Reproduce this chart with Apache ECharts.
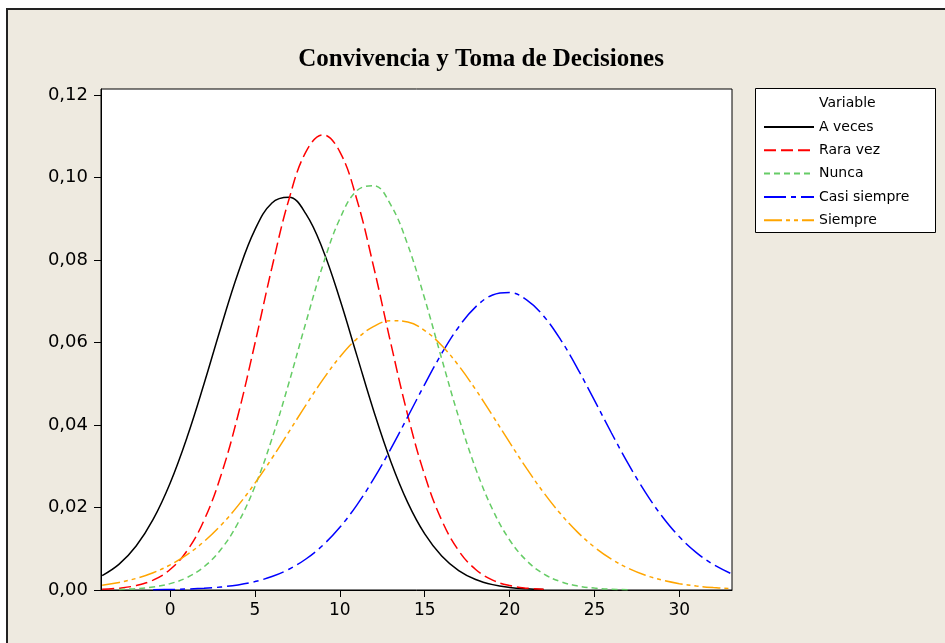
<!DOCTYPE html>
<html>
<head>
<meta charset="utf-8">
<script src="https://cdn.jsdelivr.net/npm/echarts@6/dist/echarts.min.js"></script>
<style>
  html, body { margin: 0; padding: 0; background: #ffffff; }
  #frame { position: absolute; left: 6px; top: 8px; width: 945px; height: 643px;
           background: #EEEAE0; border-top: 2px solid #222; border-left: 2px solid #222; }
  #chart { position: absolute; left: 0; top: 0; width: 945px; height: 643px; }
</style>
</head>
<body>
<div id="frame"></div>
<div id="chart"></div>
<script>
// x positions (integers from -4 to 33)
const xValues = [-4,-3,-2,-1,0,1,2,3,4,5,6,7,8,9,10,11,12,13,14,15,16,17,18,19,20,21,22,23,24,25,26,27,28,29,30,31,32,33];

const seriesNames = ["A veces", "Rara vez", "Nunca", "Casi siempre", "Siempre"];

const aVeces = [0.00350,0.00628,0.01067,0.01711,0.02590,0.03704,0.05002,0.06379,0.07683,0.08740,0.09387,0.09523,0.09123,0.08253,0.07051,0.05690,0.04335,0.03119,0.02120,0.01360,0.00825,0.00472,0.00255,0.00130,0.00063,0.00029,0.00012,null,null,null,null,null,null,null,null,null,null,null];

const raraVez = [0.00017,0.00045,0.00108,0.00240,0.00497,0.00953,0.01691,0.02782,0.04239,0.05984,0.07822,0.09472,0.10625,0.11040,0.10625,0.09472,0.07822,0.05984,0.04239,0.02782,0.01691,0.00953,0.00497,0.00240,0.00108,0.00045,0.00017,null,null,null,null,null,null,null,null,null,null,null];

const nunca = [null,0.00014,0.00033,0.00073,0.00154,0.00304,0.00564,0.00987,0.01625,0.02516,0.03666,0.05026,0.06487,0.07879,0.09004,0.09685,0.09803,0.09339,0.08371,0.07062,0.05607,0.04190,0.02946,0.01949,0.01213,0.00712,0.00392,0.00203,0.00099,0.00046,0.00020,0.00008,null,null,null,null,null,null];

const casiSiempre = [null,null,null,0.00006,0.00012,0.00023,0.00041,0.00073,0.00124,0.00205,0.00326,0.00504,0.00752,0.01087,0.01522,0.02060,0.02700,0.03423,0.04201,0.04989,0.05735,0.06379,0.06867,0.07154,0.07213,0.07037,0.06645,0.06073,0.05371,0.04597,0.03808,0.03052,0.02368,0.01778,0.01292,0.00908,0.00618,0.00407];

const siempre = [0.00117,0.00184,0.00281,0.00419,0.00608,0.00857,0.01176,0.01572,0.02046,0.02592,0.03196,0.03837,0.04484,0.05101,0.05650,0.06091,0.06393,0.06532,0.06497,0.06291,0.05930,0.05441,0.04860,0.04226,0.03578,0.02949,0.02365,0.01847,0.01404,0.01039,0.00749,0.00525,0.00358,0.00238,0.00154,0.00097,0.00060,0.00036];

const xTickLabels = [0, 5, 10, 15, 20, 25, 30];
const yTickLabels = [0, 0.02, 0.04, 0.06, 0.08, 0.10, 0.12];

const allValues = [aVeces, raraVez, nunca, casiSiempre, siempre];
const colors = ["#000000", "#FF0000", "#66CC66", "#0000FF", "#FFA500"];
const dashes = ["solid", [12, 5], [6, 4], [22, 5, 5, 5], [18, 4, 4, 4, 4, 4]];

function pairs(vals) {
  return xValues.map((x, i) => [x, vals[i]]);
}

const chart = echarts.init(document.getElementById('chart'), null, { renderer: 'canvas' });

const FONT = "DejaVu Sans";

chart.setOption({
  backgroundColor: 'transparent',
  animation: false,
  title: {
    text: "Convivencia y Toma de Decisiones",
    left: 476,
    top: 42,
    textAlign: 'center',
    textStyle: { fontFamily: "Liberation Serif", fontWeight: 'bold', fontSize: 25, color: '#000' }
  },
  grid: {
    left: 101, top: 89, right: 213, bottom: 53,
    show: true, backgroundColor: '#ffffff', borderColor: '#000', borderWidth: 1
  },
  xAxis: {
    type: 'value',
    min: -4.07, max: 33.1,
    axisLine: { show: true, onZero: false, lineStyle: { color: '#000', width: 1 } },
    axisTick: { show: true, inside: false, length: 7, customValues: xTickLabels, lineStyle: { color: '#000' } },
    axisLabel: { customValues: xTickLabels, margin: 12, color: '#000', fontFamily: FONT, fontSize: 17 },
    splitLine: { show: false }
  },
  yAxis: {
    type: 'value',
    min: 0, max: 0.1215,
    axisLine: { show: true, onZero: false, lineStyle: { color: '#000', width: 1 } },
    axisTick: { show: true, inside: false, length: 7, customValues: yTickLabels, lineStyle: { color: '#000' } },
    axisLabel: {
      customValues: yTickLabels, margin: 13, color: '#000', fontFamily: FONT, fontSize: 18,
      formatter: v => v.toFixed(2).replace('.', ',')
    },
    splitLine: { show: false }
  },
  legend: {
    orient: 'vertical',
    left: 763, top: 120,
    padding: 0,
    itemWidth: 50, itemHeight: 14, itemGap: 9.3,
    itemStyle: { color: 'transparent', borderWidth: 0, opacity: 0 },
    textStyle: { fontFamily: FONT, fontSize: 14, color: '#000' },
    data: seriesNames
  },
  graphic: [
    { type: 'rect', left: 755, top: 88, z: -1,
      shape: { width: 180, height: 144 },
      style: { fill: '#ffffff', stroke: '#000', lineWidth: 1 } },
    { type: 'text', left: 819, top: 96, z: 10,
      style: { text: 'Variable', fill: '#000', font: '14px "DejaVu Sans"' } }
  ],
  series: seriesNames.map((name, i) => ({
    name: name,
    type: 'line',
    data: pairs(allValues[i]),
    smooth: 0.4,
    symbol: 'none',
    showSymbol: false,
    connectNulls: false,
    clip: true,
    lineStyle: { color: colors[i], width: 1.5, type: dashes[i] },
    itemStyle: { color: colors[i] }
  }))
});
</script>
</body>
</html>
